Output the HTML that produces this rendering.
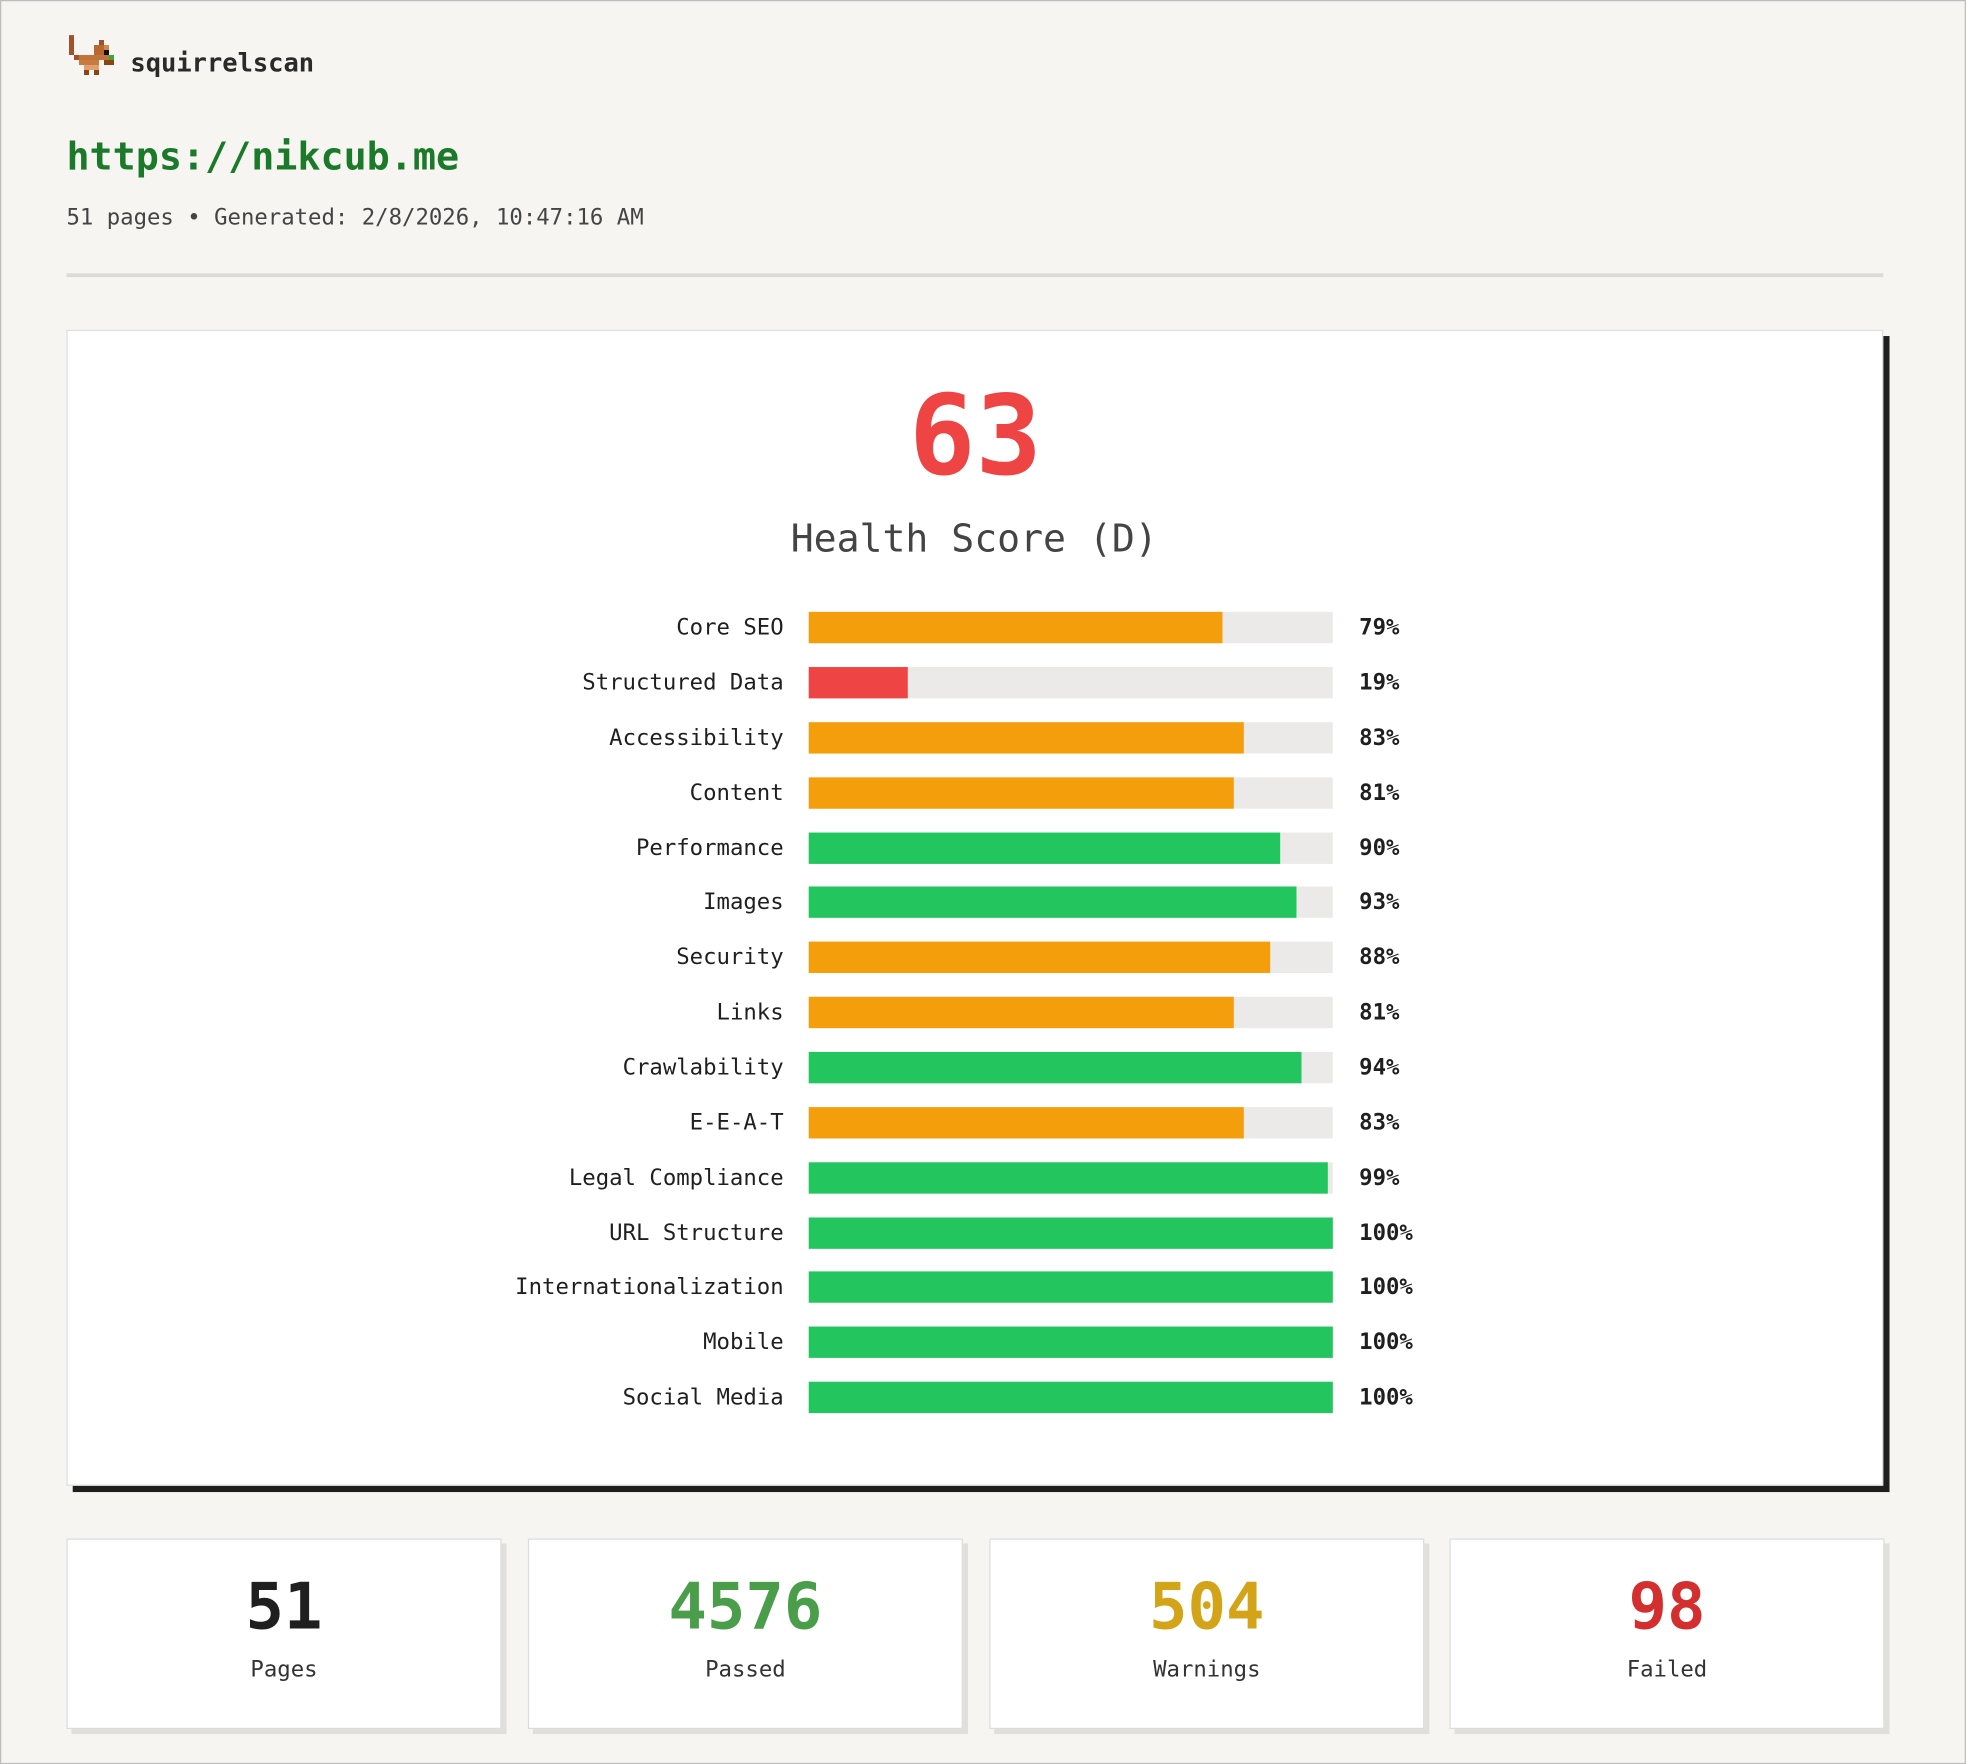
<!DOCTYPE html>
<html><head><meta charset="utf-8"><style>
html,body{margin:0;padding:0;background:#f6f5f2;}
body{width:1966px;height:1764px;overflow:hidden;}
#f{position:absolute;left:0;top:0;width:1568px;height:1407px;transform:scale(1.25383);transform-origin:0 0;background:#f6f5f2;box-sizing:border-box;border:1px solid #bdbdbd;font-family:"DejaVu Sans Mono","Liberation Mono",monospace;}
#i{position:absolute;left:-1px;top:-1px;width:1568px;height:1407px;}
.a{position:absolute;white-space:nowrap;}
.lbl{position:absolute;right:943px;font-size:17.8px;color:#1f1f1f;line-height:25px;}
.trk{position:absolute;left:645px;width:418px;height:25px;background:#ebeae8;}
.bar{height:25px;}
.pct{position:absolute;left:1084px;font-size:17.8px;font-weight:bold;color:#1f1f1f;line-height:25px;}
.st{position:absolute;top:1227px;width:345px;height:150px;background:#fff;border:1px solid #dcdcdc;box-shadow:4px 4px 0 #e0dfdc;text-align:center;}
.st .n{position:absolute;left:0;right:0;top:24px;font-size:51px;font-weight:bold;line-height:62px;}
.st .l{position:absolute;left:0;right:0;top:93px;font-size:17.8px;color:#333;}
</style></head><body><div id="f"><div id="i">
<svg class="a" style="left:51px;top:28px" width="44" height="40" viewBox="0 0 11 10" shape-rendering="crispEdges">
<rect x="1" y="0" width="1" height="4" fill="#a0522d"/>
<rect x="7" y="1" width="1" height="1" fill="#a0522d"/>
<rect x="6" y="2" width="2" height="1" fill="#b8672f"/>
<rect x="8" y="2" width="1" height="1" fill="#d18a4a"/>
<rect x="6" y="3" width="2" height="1" fill="#b8672f"/>
<rect x="8" y="3" width="1" height="1" fill="#111"/>
<rect x="2" y="4" width="1" height="1" fill="#a0522d"/>
<rect x="3" y="4" width="6" height="1" fill="#c0733a"/>
<rect x="9" y="4" width="1" height="1" fill="#3aa53a"/>
<rect x="3" y="5" width="4" height="1" fill="#c97a3e"/>
<rect x="8" y="5" width="2" height="1" fill="#8b4513"/>
<rect x="4" y="6" width="3" height="1" fill="#e0a070"/>
<rect x="4" y="7" width="1" height="1" fill="#8b4513"/>
<rect x="6" y="7" width="1" height="1" fill="#8b4513"/>
</svg>
<div class="a" style="left:104px;top:38px;font-size:20.3px;font-weight:bold;color:#2a2a2a">squirrelscan</div>
<div class="a" style="left:53px;top:108px;font-size:30.6px;font-weight:bold;color:#1a7a2a">https://nikcub.me</div>
<div class="a" style="left:53px;top:163px;font-size:17.8px;color:#444">51 pages • Generated: 2/8/2026, 10:47:16 AM</div>
<div class="a" style="left:53px;top:218px;width:1449px;height:3px;background:#dcdbd8"></div>
<div class="a" style="left:53px;top:263px;width:1447px;height:920px;background:#fff;border:1px solid #dedede;box-shadow:5px 5px 0 #1f1f1f"></div>
<div class="a" style="left:0;width:1556px;top:293px;text-align:center;font-size:88px;font-weight:bold;color:#ef4444;line-height:110px">63</div>
<div class="a" style="left:0;width:1554px;top:411px;text-align:center;font-size:30.4px;color:#444;line-height:40px">Health Score (D)</div>

<div class="lbl" style="top:488px">Core SEO</div><div class="trk" style="top:488px"><div class="bar" style="width:79%;background:#f59e0b"></div></div><div class="pct" style="top:488px">79%</div>
<div class="lbl" style="top:532px">Structured Data</div><div class="trk" style="top:532px"><div class="bar" style="width:19%;background:#ef4444"></div></div><div class="pct" style="top:532px">19%</div>
<div class="lbl" style="top:576px">Accessibility</div><div class="trk" style="top:576px"><div class="bar" style="width:83%;background:#f59e0b"></div></div><div class="pct" style="top:576px">83%</div>
<div class="lbl" style="top:620px">Content</div><div class="trk" style="top:620px"><div class="bar" style="width:81%;background:#f59e0b"></div></div><div class="pct" style="top:620px">81%</div>
<div class="lbl" style="top:664px">Performance</div><div class="trk" style="top:664px"><div class="bar" style="width:90%;background:#22c55e"></div></div><div class="pct" style="top:664px">90%</div>
<div class="lbl" style="top:707px">Images</div><div class="trk" style="top:707px"><div class="bar" style="width:93%;background:#22c55e"></div></div><div class="pct" style="top:707px">93%</div>
<div class="lbl" style="top:751px">Security</div><div class="trk" style="top:751px"><div class="bar" style="width:88%;background:#f59e0b"></div></div><div class="pct" style="top:751px">88%</div>
<div class="lbl" style="top:795px">Links</div><div class="trk" style="top:795px"><div class="bar" style="width:81%;background:#f59e0b"></div></div><div class="pct" style="top:795px">81%</div>
<div class="lbl" style="top:839px">Crawlability</div><div class="trk" style="top:839px"><div class="bar" style="width:94%;background:#22c55e"></div></div><div class="pct" style="top:839px">94%</div>
<div class="lbl" style="top:883px">E-E-A-T</div><div class="trk" style="top:883px"><div class="bar" style="width:83%;background:#f59e0b"></div></div><div class="pct" style="top:883px">83%</div>
<div class="lbl" style="top:927px">Legal Compliance</div><div class="trk" style="top:927px"><div class="bar" style="width:99%;background:#22c55e"></div></div><div class="pct" style="top:927px">99%</div>
<div class="lbl" style="top:971px">URL Structure</div><div class="trk" style="top:971px"><div class="bar" style="width:100%;background:#22c55e"></div></div><div class="pct" style="top:971px">100%</div>
<div class="lbl" style="top:1014px">Internationalization</div><div class="trk" style="top:1014px"><div class="bar" style="width:100%;background:#22c55e"></div></div><div class="pct" style="top:1014px">100%</div>
<div class="lbl" style="top:1058px">Mobile</div><div class="trk" style="top:1058px"><div class="bar" style="width:100%;background:#22c55e"></div></div><div class="pct" style="top:1058px">100%</div>
<div class="lbl" style="top:1102px">Social Media</div><div class="trk" style="top:1102px"><div class="bar" style="width:100%;background:#22c55e"></div></div><div class="pct" style="top:1102px">100%</div>

<div class="st" style="left:53px"><div class="n" style="color:#1f1f1f">51</div><div class="l">Pages</div></div>
<div class="st" style="left:421px"><div class="n" style="color:#4a9e4a">4576</div><div class="l">Passed</div></div>
<div class="st" style="left:789px"><div class="n" style="color:#d4a418">504</div><div class="l">Warnings</div></div>
<div class="st" style="left:1156px"><div class="n" style="color:#d32f2f">98</div><div class="l">Failed</div></div>
</div></div></body></html>
